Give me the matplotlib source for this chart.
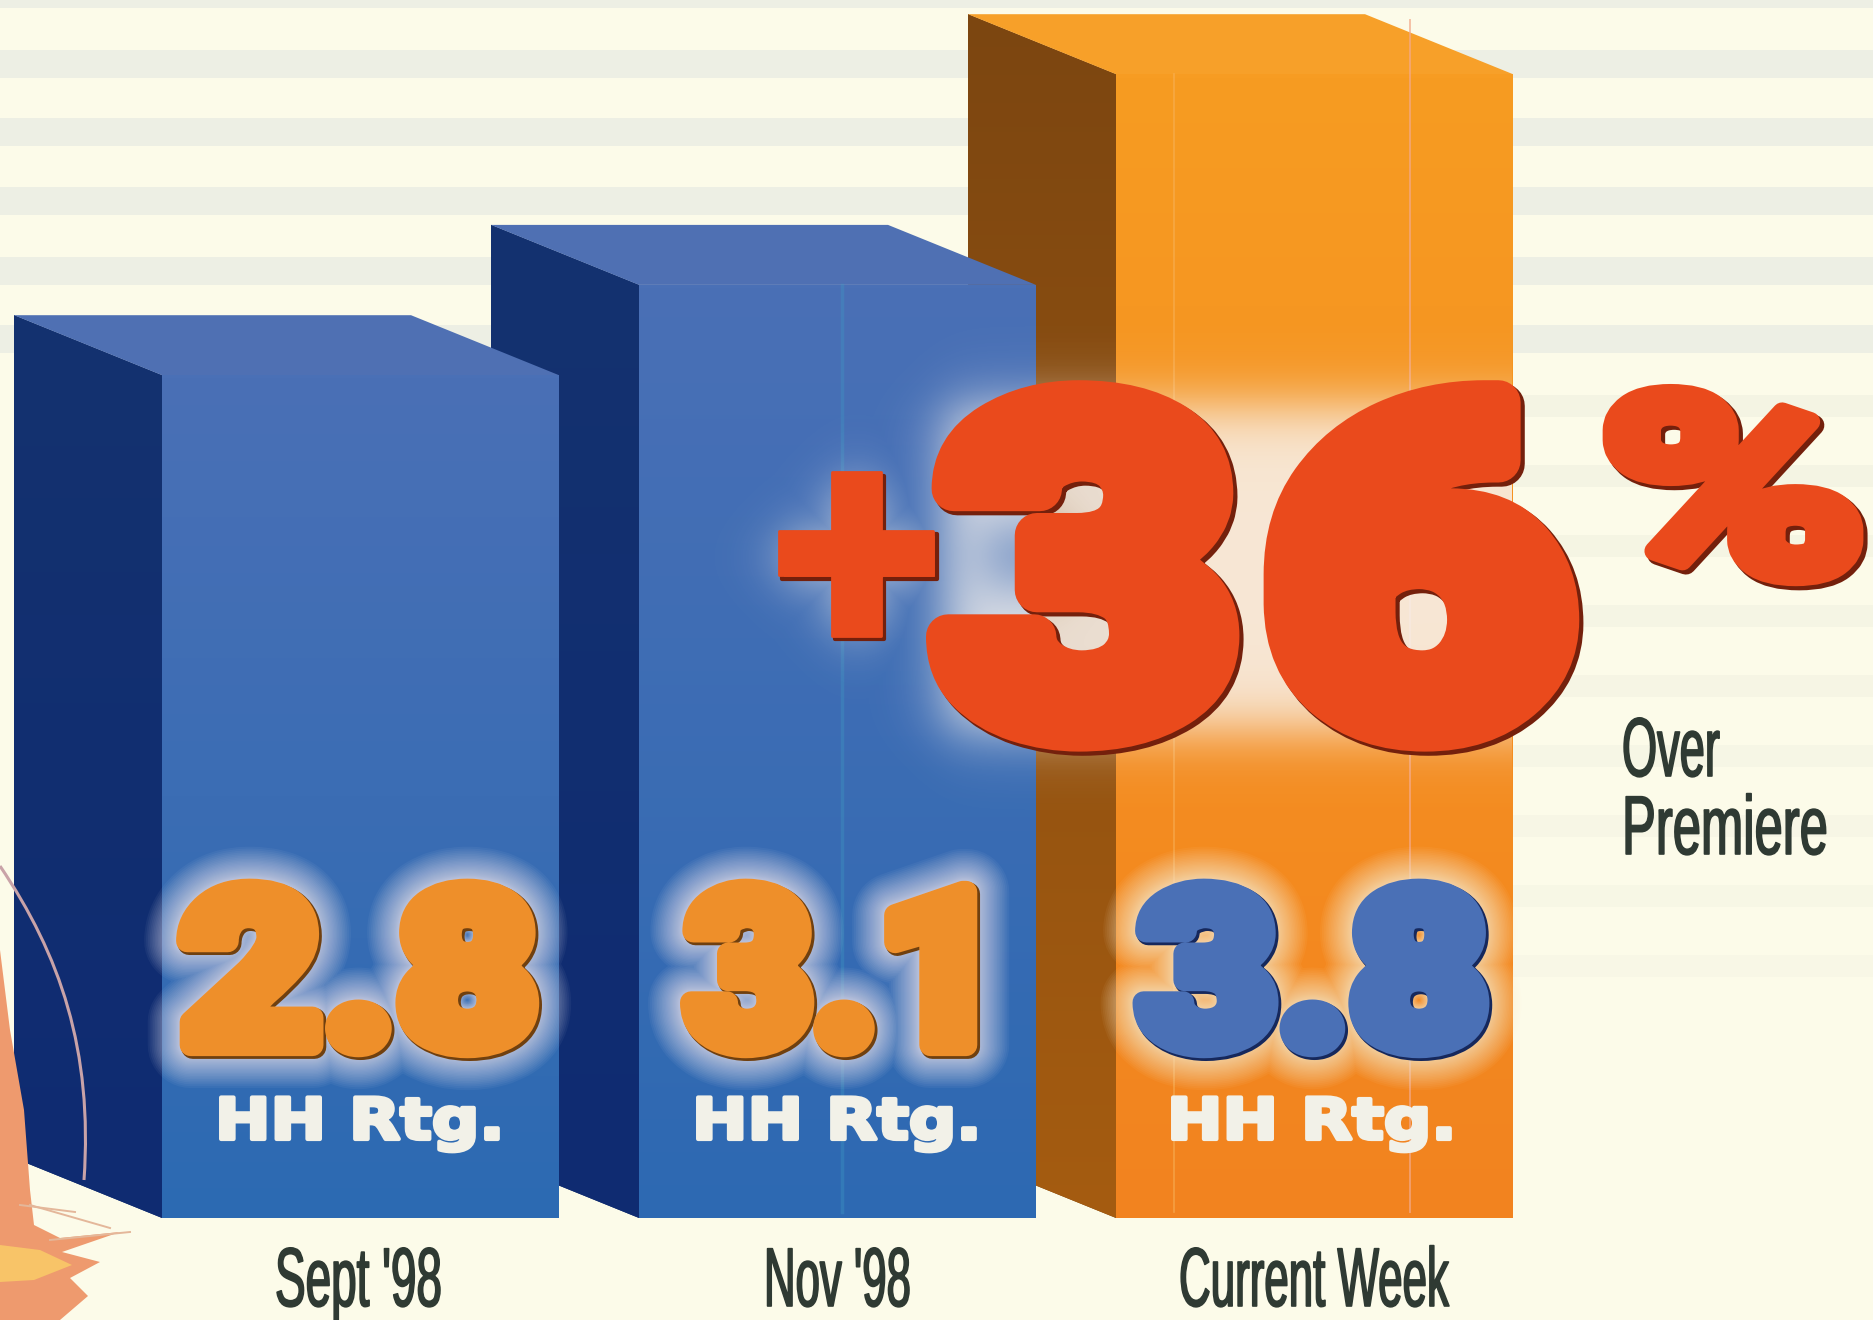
"""Household rating bars: Sept '98 to current week, +36% over premiere."""

import matplotlib

matplotlib.use("Agg")
import matplotlib.patheffects as pe
import matplotlib.pyplot as plt
import numpy as np
from matplotlib.colors import LinearSegmentedColormap, to_rgb
from matplotlib.patches import PathPatch
from matplotlib.path import Path
from matplotlib.transforms import Affine2D

W, H = 1873, 1320
DPI = 100

periods = ["Sept '98", "Nov '98", "Current Week"]
ratings = [2.8, 3.1, 3.8]
rating_labels = ["2.8", "3.1", "3.8"]
unit_label = "HH Rtg."
change_parts = ["+", "3", "6", "%"]
change_note = ["Over", "Premiere"]

# pixel layout of the picture
bar_left = [162, 639, 1116]
bar_width = 397
base_px = 1218
px_per_unit = 301
depth_x = 148
depth_y = 60 / px_per_unit

BG = "#fcfbe9"
FACE = [("#4a70b6", "#2c6ab2"), ("#4a70b6", "#2d69b2"), ("#f79c22", "#f2831f")]
SIDE = [("#14326f", "#0f2b72"), ("#14326f", "#0f2b72"), ("#7c4610", "#a55c10")]
TOP = ["#4f70b3", "#4f70b3", "#f7a029"]
NUM_FILL = ["#ee8f2a", "#ee8f2a", "#4a70b6"]
NUM_EDGE = ["#70400f", "#70400f", "#16285c"]
RED = "#ea4a1c"
RED_EDGE = "#74200c"
INK = "#2f3a33"


class Squeezed(pe.AbstractPathEffect):
    """Scale glyphs in x around a screen position, then run another effect."""

    def __init__(self, x_px, sx, inner):
        super().__init__()
        self.x_px = x_px
        self.sx = sx
        self.inner = inner

    def draw_path(self, renderer, gc, tpath, affine, rgbFace=None):
        squeeze = Affine2D().translate(-self.x_px, 0).scale(self.sx, 1).translate(self.x_px, 0)
        self.inner.draw_path(renderer, gc, tpath, affine + squeeze, rgbFace)


def fit_text(ax, s, x0, x1, baseline, size, effects, **kwargs):
    """Real text whose ink is stretched to run from x0 to x1."""
    t = ax.text(x0, baseline, s, fontsize=size, ha="left", va="baseline", **kwargs)
    box = t.get_window_extent(fig.canvas.get_renderer())
    sx = (x1 - x0) / box.width
    x_disp = ax.transData.transform((x0, baseline))[0]
    t.set_path_effects([Squeezed(x_disp, sx, e) for e in effects])
    return t


def text_glow(color, narrow, wide, layers, alpha):
    # widths bunch up near the glyph so the glow fades out towards its rim
    steps = np.linspace(1, 0, layers) ** 2
    return [pe.Stroke(linewidth=narrow + (wide - narrow) * s, foreground=color, alpha=alpha) for s in steps]


def gradient(ax, patch, extent, top, bottom):
    cmap = LinearSegmentedColormap.from_list("face", [top, bottom])
    im = ax.imshow(
        np.linspace(0, 1, 256)[:, None], cmap=cmap, extent=extent, aspect="auto",
        origin="upper", zorder=patch.get_zorder() + 0.1,
    )
    im.set_clip_path(patch)


def rect_alpha(xx, yy, box, soft):
    x0, x1, y0, y1 = box
    edge = lambda d: 1 / (1 + np.exp(-d / (soft / 2.5)))
    return edge(xx - x0) * edge(x1 - xx) * edge(yy - y0) * edge(y1 - yy)


def block_glow(ax, extent, boxes, holes, color, strength, soft):
    """Soft whitish glow behind the big figures, printed only on the bars."""
    x0, x1, y0, y1 = extent
    xx, yy = np.meshgrid(np.arange(x0, x1), np.arange(y0, y1))
    alpha = np.zeros_like(xx, dtype=float)
    for box in boxes:
        alpha = np.maximum(alpha, rect_alpha(xx, yy, box, soft))
    for box, depth in holes:
        alpha = alpha * (1 - depth * rect_alpha(xx, yy, box, soft))
    rgba = np.zeros(xx.shape + (4,))
    rgba[..., :3] = to_rgb(color)
    rgba[..., 3] = alpha * strength
    ax.imshow(rgba, extent=(x0, x1, y1, y0), aspect="auto", zorder=2)


fig = plt.figure(figsize=(W / DPI, H / DPI), dpi=DPI, facecolor=BG)

# --- background stripes ---
bg = fig.add_axes([0, 0, 1, 1])
bg.set_xlim(0, W)
bg.set_ylim(H, 0)
bg.axis("off")
stripe_tops = [-20, 50, 118, 187, 257, 325]
for y in stripe_tops:
    bg.axhspan(y, y + 28, color="#edefe4", lw=0)
ghost_rows = [395, 465, 535, 605, 675, 745, 815, 885, 955]
for i, y in enumerate(ghost_rows):
    bg.axhspan(y, y + 22, xmin=0.68, color="#f4f4e3", lw=0, alpha=1 - i * 0.07)

# --- bars, rating units on y ---
ax = fig.add_axes([0, 0, 1, 1])
ax.patch.set_alpha(0)
ax.axis("off")

for i in (2, 1, 0):
    v = ratings[i]
    x0 = bar_left[i]
    z = 2 + 2 * (2 - i)
    side = ax.fill(
        [x0 - depth_x, x0, x0, x0 - depth_x], [depth_y, 0, v, v + depth_y],
        color=SIDE[i][0], lw=0, zorder=z,
    )[0]
    gradient(ax, side, (x0 - depth_x, x0, 0, v + depth_y), SIDE[i][0], SIDE[i][1])
    ax.fill(
        [x0 - depth_x, x0 - depth_x + bar_width, x0 + bar_width, x0],
        [v + depth_y, v + depth_y, v, v],
        color=TOP[i], lw=0, zorder=z + 0.5,
    )
    bar = ax.bar(x0, v, width=bar_width, align="edge", color=FACE[i][0], lw=0, zorder=z + 0.5)[0]
    gradient(ax, bar, (x0, x0 + bar_width, 0, v), FACE[i][0], FACE[i][1])

# print streaks in the bars
ax.plot([1410, 1410], [0.02, 3.98], color="#f3a98a", lw=1.4, alpha=0.7, zorder=7)
ax.plot([1174, 1174], [0.02, 3.8], color="#f7b25a", lw=1.2, alpha=0.6, zorder=7)
ax.plot([842, 842], [0.02, 3.1], color="#3f9ac4", lw=2.5, alpha=0.35, zorder=5.5)
ax.set_xlim(0, W)
ax.set_ylim(-(H - base_px) / px_per_unit, base_px / px_per_unit)

# --- everything printed on top ---
top = fig.add_axes([0, 0, 1, 1])
top.patch.set_alpha(0)
top.axis("off")

# hair at the lower left
hair_x = [0, 10, 24, 30, 34, 60, 120, 62, 100, 70, 88, 60, 0]
hair_y = [950, 1030, 1110, 1190, 1225, 1238, 1232, 1252, 1262, 1278, 1296, 1320, 1320]
top.fill(hair_x, hair_y, color="#ee9a6e", lw=0, zorder=1)
top.fill([0, 40, 72, 34, 0], [1245, 1250, 1265, 1280, 1282], color="#f8c468", lw=0, zorder=1)
strand = Path([(0, 866), (60, 955), (93, 1050), (84, 1180)], [Path.MOVETO, Path.CURVE4, Path.CURVE4, Path.CURVE4])
top.add_patch(PathPatch(strand, fc="none", ec="#c9a3a8", lw=2.2, zorder=1))
for xs, ys in [([30, 110], [1205, 1228]), ([20, 75], [1205, 1212]), ([50, 130], [1240, 1232])]:
    top.plot(xs, ys, color="#e4b79a", lw=1.4, zorder=1)

block_glow(
    top, (680, 1512, 300, 830),
    [(945, 1583, 405, 730), (785, 928, 535, 578), (835, 878, 485, 628)],
    [((985, 1060, 525, 585), 0.8)],
    "#f8f3ee", 0.88, 42,
)
top.set_xlim(0, W)
top.set_ylim(H, 0)

big_font = dict(family=["Roboto", "DejaVu Sans"], fontweight=900)
wide_font = dict(family=["DejaVu Sans"], fontweight="bold")
narrow_font = dict(family=["Liberation Sans Narrow", "Liberation Sans"])

num_x = [(180, 538), (686, 1003), (1138, 1488)]
unit_x = [(215, 505), (692, 982), (1167, 1457)]
label_x = [(275, 442), (764, 911), (1179, 1449)]
for i in range(3):
    halo = text_glow("#e6e2f0" if i < 2 else "#fdeccb", 16, 62, 34, 0.05)
    face = [
        pe.Stroke(linewidth=17, foreground=NUM_EDGE[i], offset=(1.5, -1.5)),
        pe.Stroke(linewidth=16, foreground=NUM_FILL[i]),
        pe.Normal(),
    ]
    fit_text(top, rating_labels[i], *num_x[i], 1045, 155, halo + face, color=NUM_FILL[i], zorder=5, **big_font)
    fit_text(
        top, unit_label, *unit_x[i], 1139, 41,
        [pe.Stroke(linewidth=3, foreground="#f2f1e8"), pe.Normal()],
        color="#f2f1e8", zorder=6, **wide_font,
    )
    fit_text(
        top, periods[i], *label_x[i], 1306, 60,
        [pe.Stroke(linewidth=1.2, foreground=INK), pe.Normal()],
        color=INK, zorder=6, **narrow_font,
    )

change_x = [(772, 941), (936, 1238), (1264, 1572), (1596, 1870)]
change_base = [658, 725, 725, 574]
change_size = [227, 322, 322, 180]
change_stroke = [2, 32, 32, 14]
for i, part in enumerate(change_parts):
    face = [
        pe.Stroke(linewidth=change_stroke[i] + 1, foreground=RED_EDGE, offset=(2.5, -2.5)),
        pe.Stroke(linewidth=change_stroke[i], foreground=RED),
        pe.Normal(),
    ]
    fit_text(top, part, *change_x[i], change_base[i], change_size[i], face, color=RED, zorder=7, **big_font)

note_x = [(1622, 1720), (1622, 1828)]
note_base = [776, 854]
for s, xs, y in zip(change_note, note_x, note_base):
    fit_text(
        top, s, *xs, y, 60,
        [pe.Stroke(linewidth=1.2, foreground=INK), pe.Normal()],
        color=INK, zorder=6, **narrow_font,
    )

fig.savefig("out.png", dpi=DPI, facecolor=BG)
plt.close(fig)
